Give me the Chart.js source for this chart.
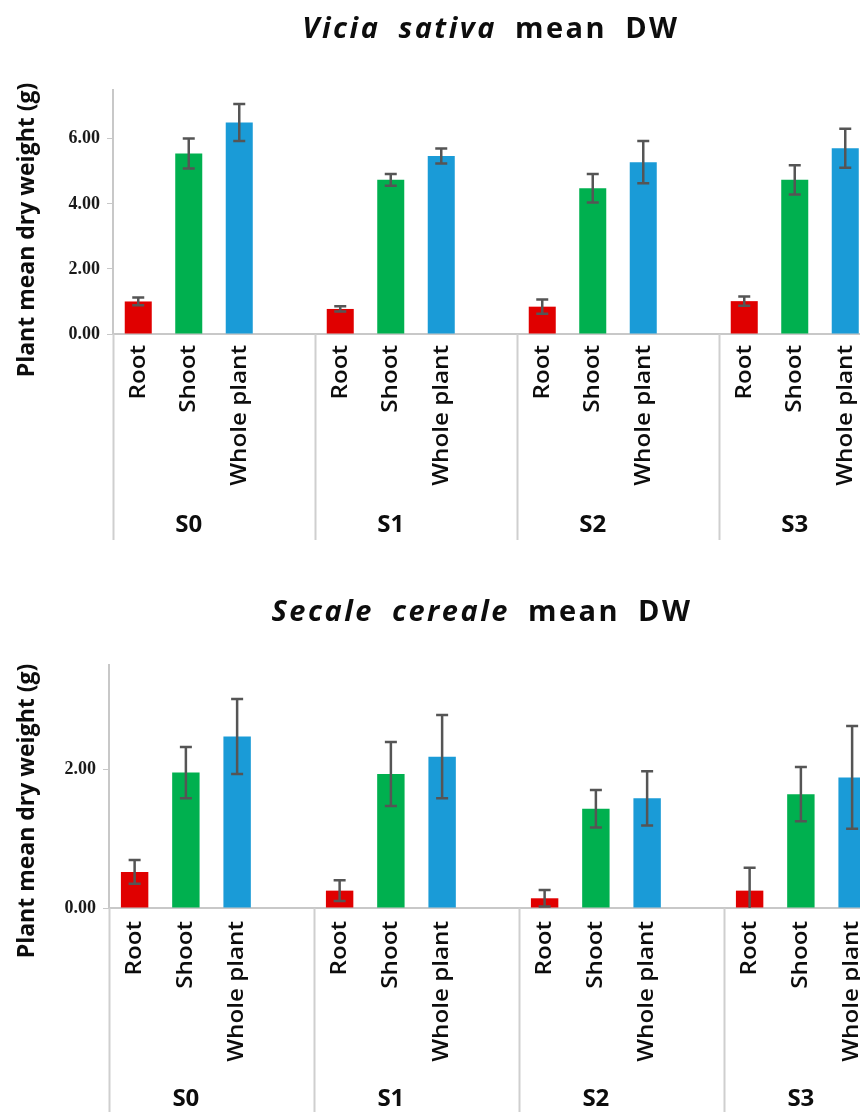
<!DOCTYPE html>
<html>
<head>
<meta charset="utf-8">
<script src="https://cdn.jsdelivr.net/npm/chart.js@4.4.1/dist/chart.umd.min.js"></script>
<style>
  html, body { margin: 0; padding: 0; background: #fff; overflow: hidden; width: 860px; height: 1112px; }
  .panel { position: absolute; left: 0; width: 940px; height: 556px; }
  #p1 { top: 0; }
  #p2 { top: 556px; }
</style>
</head>
<body>
<div class="panel" id="p1"><canvas id="c1" width="940" height="556"></canvas></div>
<div class="panel" id="p2"><canvas id="c2" width="940" height="556"></canvas></div>
<script>
// Plant parts (bars inside each group) and sowing treatments (groups)
const parts = ['Root', 'Shoot', 'Whole plant'];
const treatments = ['S0', 'S1', 'S2', 'S3'];
const partColors = ['#E00000', '#00B04F', '#1A9BD7'];
const yTicksVicia = [0, 2, 4, 6];
const yTicksSecale = [0, 2];

// Vicia sativa mean dry weight (g) and its error per treatment
const viciaRoot = [1.00, 0.77, 0.84, 1.01];
const viciaRootErr = [0.12, 0.08, 0.22, 0.14];
const viciaShoot = [5.55, 4.74, 4.48, 4.74];
const viciaShootErr = [0.46, 0.18, 0.44, 0.45];
const viciaWhole = [6.50, 5.47, 5.28, 5.71];
const viciaWholeErr = [0.57, 0.23, 0.65, 0.60];

// Secale cereale mean dry weight (g) and its error per treatment
const secaleRoot = [0.52, 0.25, 0.14, 0.25];
const secaleRootErr = [0.17, 0.15, 0.12, 0.33];
const secaleShoot = [1.95, 1.93, 1.43, 1.64];
const secaleShootErr = [0.37, 0.46, 0.27, 0.39];
const secaleWhole = [2.47, 2.18, 1.58, 1.88];
const secaleWholeErr = [0.54, 0.60, 0.39, 0.74];

// Each treatment takes four slots on the category axis: three bars and a spacer.
function buildSlots(series, errs) {
  const labels = [], values = [], errors = [], colors = [];
  treatments.forEach((t, g) => {
    parts.forEach((p, i) => {
      labels.push(p);
      values.push(series[i][g]);
      errors.push(errs[i][g]);
      colors.push(partColors[i]);
    });
    labels.push('');
    values.push(null);
    errors.push(null);
    colors.push('rgba(0,0,0,0)');
  });
  return { labels, values, errors, colors };
}

function decorPlugin(cfg) {
  return {
    id: 'decor',
    afterDatasetsDraw(chart) {
      const { ctx, chartArea } = chart;
      const y = chart.scales.y;
      const meta = chart.getDatasetMeta(0);
      const errs = chart.data.datasets[0].errors;
      ctx.save();
      ctx.beginPath();
      ctx.rect(chartArea.left, chartArea.top - 20, chartArea.right - chartArea.left, chartArea.bottom - chartArea.top + 20);
      ctx.clip();
      ctx.strokeStyle = '#555555';
      ctx.lineWidth = 2.5;
      meta.data.forEach((bar, i) => {
        const v = chart.data.datasets[0].data[i];
        if (v === null || errs[i] === null) return;
        const x = bar.x;
        const yHi = y.getPixelForValue(v + errs[i]);
        const yLo = y.getPixelForValue(v - errs[i]);
        ctx.beginPath();
        ctx.moveTo(x, yHi); ctx.lineTo(x, yLo);
        ctx.moveTo(x - 6, yHi); ctx.lineTo(x + 6, yHi);
        ctx.moveTo(x - 6, yLo); ctx.lineTo(x + 6, yLo);
        ctx.stroke();
      });
      ctx.restore();
    },
    afterDraw(chart) {
      const { ctx, chartArea } = chart;
      const x = chart.scales.x;
      ctx.save();

      // rotated category labels under the bars
      ctx.fillStyle = '#0d0d0d';
      ctx.font = '600 22px "Open Sans"';
      ctx.textAlign = 'right';
      ctx.textBaseline = 'middle';
      chart.data.labels.forEach((lab, i) => {
        if (!lab) return;
        const px = x.getPixelForValue(i);
        ctx.save();
        ctx.translate(px, chartArea.bottom + cfg.labelPad);
        ctx.rotate(-Math.PI / 2);
        ctx.scale(1.1, 1);
        ctx.fillText(lab, 0, 0);
        ctx.restore();
      });

      // treatment separators and group labels
      ctx.strokeStyle = '#cfcfcf';
      ctx.lineWidth = 2;
      for (let k = 0; k <= treatments.length; k++) {
        const sx = Math.round(x.getPixelForValue(k * 4 - 0.5)) + 0.5;
        ctx.beginPath();
        ctx.moveTo(sx, chartArea.bottom);
        ctx.lineTo(sx, cfg.sepBottom);
        ctx.stroke();
      }
      ctx.font = '700 24px "Open Sans"';
      ctx.textAlign = 'center';
      ctx.textBaseline = 'middle';
      treatments.forEach((t, k) => {
        ctx.fillText(t, x.getPixelForValue(k * 4 + 1), cfg.groupY);
      });

      // y axis title
      ctx.save();
      ctx.translate(27, cfg.yTitleY);
      ctx.rotate(-Math.PI / 2);
      ctx.font = '700 23px "Open Sans"';
      ctx.fillText('Plant mean dry weight (g)', 0, 0);
      ctx.restore();

      // chart title: italic species name followed by "mean DW"
      ctx.textAlign = 'left';
      ctx.letterSpacing = '2.5px';
      const gap = 18;
      const widths = cfg.title.map(w => {
        ctx.font = (w.italic ? 'italic ' : '') + '700 29px "Open Sans"';
        return ctx.measureText(w.text).width;
      });
      const total = widths.reduce((a, b) => a + b, 0) + gap * (cfg.title.length - 1);
      let tx = cfg.titleX - total / 2;
      cfg.title.forEach((w, i) => {
        ctx.font = (w.italic ? 'italic ' : '') + '700 29px "Open Sans"';
        ctx.fillText(w.text, tx, cfg.titleY);
        tx += widths[i] + gap;
      });
      ctx.restore();
    }
  };
}

function makeChart(id, slots, yMax, yTicks, geo) {
  return new Chart(document.getElementById(id), {
    type: 'bar',
    data: {
      labels: slots.labels,
      datasets: [{
        data: slots.values,
        errors: slots.errors,
        backgroundColor: slots.colors,
        borderWidth: 0,
        barPercentage: 0.535,
        categoryPercentage: 1
      }]
    },
    options: {
      responsive: false,
      animation: false,
      devicePixelRatio: 1,
      layout: { padding: { top: geo.top, right: geo.right, left: 0, bottom: 0 } },
      plugins: { legend: { display: false }, tooltip: { enabled: false } },
      scales: {
        x: {
          ticks: { display: false },
          grid: { display: true, drawOnChartArea: false, drawTicks: false },
          border: { color: '#c8c8c8', width: 2 },
          afterFit(s) { s.height = geo.xHeight; }
        },
        y: {
          min: 0,
          max: yMax,
          afterBuildTicks(s) { s.ticks = yTicks.map(v => ({ value: v })); },
          ticks: {
            callback: v => v.toFixed(2),
            font: { family: '"Liberation Serif"', weight: 'bold', size: 18 },
            color: '#1a1a1a',
            padding: 7
          },
          grid: { drawOnChartArea: false, tickLength: 6, color: '#c8c8c8' },
          border: { color: '#c8c8c8', width: 2 },
          afterFit(s) { s.width = geo.yWidth; }
        }
      }
    },
    plugins: [decorPlugin(geo)]
  });
}

const viciaSlots = buildSlots([viciaRoot, viciaShoot, viciaWhole], [viciaRootErr, viciaShootErr, viciaWholeErr]);
const secaleSlots = buildSlots([secaleRoot, secaleShoot, secaleWhole], [secaleRootErr, secaleShootErr, secaleWholeErr]);

makeChart('c1', viciaSlots, 7.5, yTicksVicia, {
  top: 90, right: 19, yWidth: 113, xHeight: 222,
  labelPad: 11, sepBottom: 540, groupY: 525, yTitleY: 230,
  titleX: 491, titleY: 30,
  title: [{ text: 'Vicia', italic: true }, { text: 'sativa', italic: true }, { text: 'mean' }, { text: 'DW' }]
});

makeChart('c2', secaleSlots, 3.5, yTicksSecale, {
  top: 109, right: 11, yWidth: 109, xHeight: 204,
  labelPad: 13, sepBottom: 556, groupY: 543, yTitleY: 255,
  titleX: 482, titleY: 57,
  title: [{ text: 'Secale', italic: true }, { text: 'cereale', italic: true }, { text: 'mean' }, { text: 'DW' }]
});
</script>
</body>
</html>
